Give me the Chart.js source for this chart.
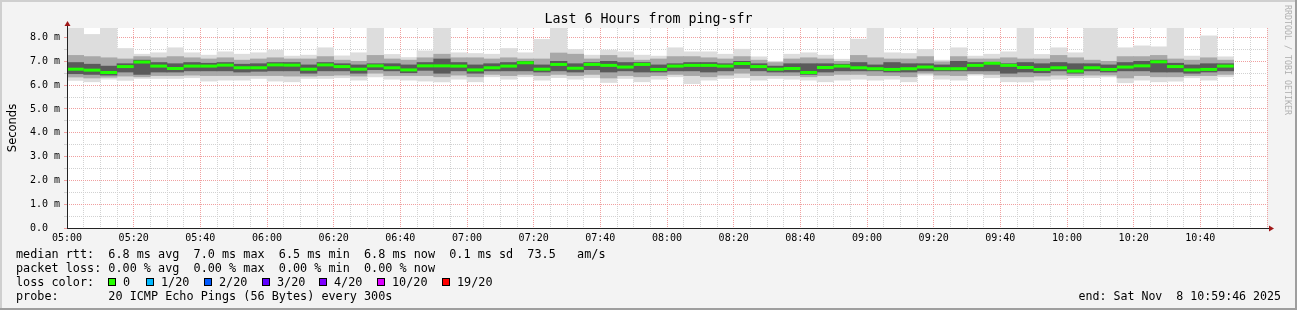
<!DOCTYPE html>
<html><head><meta charset="utf-8">
<script src="https://cdn.jsdelivr.net/npm/chart.js@4/dist/chart.umd.min.js"></script>
<style>
html,body{margin:0;padding:0;background:#f3f3f3;overflow:hidden}
#wrap{position:relative;width:1297px;height:310px}
#wrap canvas{position:absolute;left:0;top:0}
.t{position:absolute;font-family:'DejaVu Sans Mono',monospace;font-size:11.8px;color:#000;white-space:pre;line-height:14px}
.sq{position:absolute;width:6px;height:6px;border:1px solid #000;top:278px}
#title{position:absolute;left:0;width:1297px;top:11px;text-align:center;font-family:'DejaVu Sans Mono',monospace;font-size:13.3px;line-height:16px;color:#000;white-space:pre}
#ylab{position:absolute;left:-38.5px;top:121px;width:100px;text-align:center;font-family:'DejaVu Sans',sans-serif;font-size:11.5px;line-height:14px;transform:rotate(-90deg);color:#000}
#rrd{position:absolute;left:1228px;top:54px;width:120px;text-align:center;font-family:'DejaVu Sans Mono',monospace;font-size:8.3px;line-height:12px;transform:rotate(90deg);color:#b0b0b0;white-space:pre}
</style></head>
<body>
<div id="wrap">
<canvas id="c" width="1297" height="310"></canvas>
<div id="title">Last 6 Hours from ping-sfr</div>
<div id="ylab">Seconds</div>
<div id="rrd">RRDTOOL / TOBI OETIKER</div>
<div class="t" style="left:16px;top:247px">median rtt:  6.8 ms avg  7.0 ms max  6.5 ms min  6.8 ms now  0.1 ms sd  73.5   am/s</div>
<div class="t" style="left:16px;top:261px">packet loss: 0.00 % avg  0.00 % max  0.00 % min  0.00 % now</div>
<div class="t" style="left:16px;top:275px">loss color:</div>
<div id="lossRow"></div>
<div class="t" style="left:16px;top:289px">probe:       20 ICMP Echo Pings (56 Bytes) every 300s</div>
<div class="t" style="right:16px;top:289px;font-size:11.6px">end: Sat Nov  8 10:59:46 2025</div>
</div>
<script>
// ---- data (milliseconds), one entry per 5-minute interval starting 05:00 ----
const maxV = [8.45,8.13,8.45,7.54,7.30,7.36,7.57,7.36,7.26,7.40,7.30,7.36,
  7.47,7.22,7.26,7.57,7.23,7.36,8.45,7.29,7.16,7.44,8.45,7.36,
  7.33,7.30,7.54,7.36,7.92,8.45,7.50,7.26,7.47,7.40,7.26,7.22,
  7.57,7.40,7.40,7.30,7.51,7.19,7.00,7.30,7.36,7.26,7.09,7.93,
  8.45,7.36,7.33,7.50,7.05,7.57,7.22,7.30,7.40,8.45,7.29,7.57,
  7.36,8.45,8.45,7.57,7.65,7.61,8.45,7.22,8.07,7.19];
const hi2 = [7.25,7.2,7.15,7.1,7.2,7.15,7.2,7.15,7.1,7.15,7.05,7.1,
  7.15,7.1,7.1,7.2,7.05,7.0,7.25,7.1,7.05,7.15,7.3,7.15,
  7.15,7.1,7.15,7.1,7.1,7.35,7.3,7.1,7.25,7.15,7.05,7.1,
  7.2,7.2,7.15,7.1,7.2,7.05,6.95,7.1,7.15,7.1,7.0,7.25,
  7.15,7.1,7.1,7.2,6.98,7.2,7.1,7.1,7.15,7.1,7.1,7.25,
  7.15,7.05,7.0,7.2,7.2,7.25,7.1,7.05,7.15,7.05];
const hi3 = [6.95,6.88,6.8,6.9,7.05,6.95,6.9,6.95,6.92,6.95,6.88,6.9,
  6.95,6.95,6.85,6.95,6.9,6.85,6.9,6.9,6.85,6.95,7.1,6.95,
  6.85,6.9,6.95,7.0,6.85,7.0,6.9,6.95,7.0,6.95,6.95,6.85,
  6.9,6.95,6.95,6.9,7.0,6.9,6.8,6.9,6.9,6.9,6.88,6.95,
  6.85,6.95,6.9,6.9,6.85,7.0,6.95,6.95,6.9,6.95,6.9,6.95,
  6.9,6.9,6.85,6.95,7.0,7.05,6.92,6.85,6.9,6.9];
const medianV = [6.67,6.63,6.53,6.78,6.97,6.80,6.70,6.80,6.80,6.84,6.73,6.73,
  6.85,6.84,6.67,6.85,6.78,6.67,6.81,6.73,6.64,6.81,6.81,6.80,
  6.64,6.73,6.80,6.94,6.67,6.87,6.71,6.87,6.83,6.76,6.87,6.66,
  6.80,6.83,6.83,6.80,6.91,6.78,6.67,6.70,6.53,6.74,6.80,6.73,
  6.69,6.66,6.69,6.76,6.69,6.69,6.83,6.92,6.83,6.74,6.66,6.73,
  6.59,6.73,6.66,6.76,6.81,6.98,6.78,6.64,6.66,6.80];
const lo3 = [6.48,6.45,6.42,6.55,6.45,6.55,6.55,6.6,6.6,6.6,6.55,6.58,
  6.6,6.6,6.5,6.6,6.6,6.5,6.65,6.6,6.52,6.62,6.5,6.6,
  6.5,6.6,6.6,6.6,6.55,6.6,6.55,6.65,6.55,6.6,6.55,6.55,
  6.6,6.6,6.55,6.6,6.7,6.6,6.55,6.55,6.45,6.55,6.6,6.6,
  6.6,6.55,6.55,6.6,6.6,6.6,6.6,6.6,6.5,6.55,6.52,6.6,
  6.5,6.6,6.55,6.6,6.6,6.55,6.55,6.5,6.55,6.6];
const lo2 = [6.34,6.3,6.33,6.38,6.35,6.4,6.4,6.42,6.4,6.4,6.4,6.4,
  6.4,6.38,6.38,6.4,6.42,6.38,6.5,6.4,6.4,6.4,6.35,6.42,
  6.35,6.45,6.4,6.45,6.4,6.45,6.4,6.45,6.3,6.4,6.35,6.4,
  6.45,6.4,6.35,6.42,6.5,6.4,6.4,6.4,6.35,6.4,6.45,6.45,
  6.4,6.4,6.35,6.5,6.42,6.4,6.48,6.45,6.35,6.35,6.38,6.42,
  6.4,6.42,6.42,6.3,6.4,6.35,6.35,6.4,6.4,6.45];
const minV = [6.20,6.14,6.25,6.20,6.28,6.28,6.28,6.31,6.17,6.21,6.21,6.28,
  6.17,6.14,6.28,6.28,6.31,6.21,6.35,6.25,6.21,6.17,6.14,6.25,
  6.14,6.35,6.25,6.35,6.21,6.31,6.25,6.31,6.11,6.28,6.14,6.25,
  6.35,6.06,6.21,6.28,6.31,6.21,6.28,6.25,6.21,6.14,6.21,6.25,
  6.21,6.25,6.14,6.42,6.25,6.21,6.42,6.31,6.14,6.14,6.21,6.25,
  6.31,6.31,6.35,6.10,6.21,6.14,6.17,6.31,6.21,6.35];
const xTickLabels = ['05:00','05:20','05:40','06:00','06:20','06:40','07:00','07:20','07:40',
  '08:00','08:20','08:40','09:00','09:20','09:40','10:00','10:20','10:40'];
const yTickLabels = ['0.0  ','1.0 m','2.0 m','3.0 m','4.0 m','5.0 m','6.0 m','7.0 m','8.0 m'];
const lossLabels = ['0','1/20','2/20','3/20','4/20','10/20','19/20'];
const lossColors = ['#26ff00','#00b8ff','#0059ff','#5e00ff','#7e00ff','#dd00ff','#ff0000'];

// ---- legend row ----
const sqLeft = [108,146,204,262,319,377,442];
const row = document.getElementById('lossRow');
lossLabels.forEach((l,i)=>{
  const s=document.createElement('div'); s.className='sq'; s.style.left=sqLeft[i]+'px'; s.style.background=lossColors[i]; row.appendChild(s);
  const t=document.createElement('div'); t.className='t'; t.style.left=(sqLeft[i]+15)+'px'; t.style.top='275px'; t.textContent=l; row.appendChild(t);
});

// ---- chart ----
const STEP = 5; // minutes per interval
const xs = medianV.map((_,i)=> i*STEP + STEP/2);
const band = (lo,hi)=> xs.map((x,i)=>({x:x, y:[lo[i],hi[i]]}));

const bgPlugin = {
  id:'bg',
  beforeDraw(chart){
    const {ctx, chartArea:a, width:w, height:h} = chart;
    ctx.save();
    ctx.fillStyle='#f3f3f3'; ctx.fillRect(0,0,w,h);
    ctx.fillStyle='#cfcfcf'; ctx.fillRect(0,0,w,2); ctx.fillRect(0,0,2,h);
    ctx.fillStyle='#9e9e9e'; ctx.fillRect(0,h-2,w,2); ctx.fillRect(w-2,0,2,h);
    ctx.fillStyle='#ffffff'; ctx.fillRect(a.left,a.top,a.right-a.left,a.bottom-a.top);
    ctx.restore();
  },
  afterDraw(chart){
    const {ctx, chartArea:a} = chart;
    ctx.save();
    ctx.strokeStyle='#222'; ctx.lineWidth=1;
    ctx.beginPath(); ctx.moveTo(a.left+0.5,a.bottom); ctx.lineTo(a.left+0.5,a.top-3); ctx.stroke();
    ctx.beginPath(); ctx.moveTo(a.left,a.bottom+0.5); ctx.lineTo(a.right+2,a.bottom+0.5); ctx.stroke();
    ctx.fillStyle='#a01818';
    ctx.beginPath(); ctx.moveTo(a.left+0.5,a.top-7); ctx.lineTo(a.left-2.5,a.top-2); ctx.lineTo(a.left+3.5,a.top-2); ctx.closePath(); ctx.fill();
    ctx.beginPath(); ctx.moveTo(a.right+7,a.bottom+0.5); ctx.lineTo(a.right+2,a.bottom-2.5); ctx.lineTo(a.right+2,a.bottom+3.5); ctx.closePath(); ctx.fill();
    ctx.restore();
  }
};

const barCommon = {type:'bar', grouped:false, barPercentage:1, categoryPercentage:1, borderWidth:0, borderSkipped:false};

new Chart(document.getElementById('c'), {
  data:{
    datasets:[
      Object.assign({data:band(minV,maxV), backgroundColor:'#dddddd', order:4}, barCommon),
      Object.assign({data:band(lo2,hi2), backgroundColor:'#a8a8a8', order:3}, barCommon),
      Object.assign({data:band(lo3,hi3), backgroundColor:'#5a5a5a', order:2}, barCommon),
      {type:'line', data:xs.map((x,i)=>({x:x,y:medianV[i]})), showLine:false, order:1,
       pointStyle:'line', pointRadius:8.4, pointHoverRadius:8.4, pointBorderWidth:3, pointBorderColor:'#20ff00', pointBackgroundColor:'#20ff00'}
    ]
  },
  options:{
    responsive:false, animation:false, devicePixelRatio:1,
    layout:{padding:{left:0,top:28,right:30,bottom:0}},
    plugins:{legend:{display:false}, tooltip:{enabled:false}, title:{display:false}},
    scales:{
      x:{type:'linear', min:0, max:360, offset:false,
        afterFit(s){ s.height = 82; },
        border:{display:false, dash:[1,1]},
        grid:{offset:false, drawTicks:false, borderDash:[1,1],
          color:(c)=> (c.tick && c.tick.value % 20 === 0) ? '#f0a0a0' : '#d2d2d2'},
        ticks:{stepSize:5, autoSkip:false, maxRotation:0, padding:4, color:'#000',
          font:{family:'DejaVu Sans Mono', size:10},
          callback:(v)=> (v % 20 === 0 && v/20 < xTickLabels.length) ? xTickLabels[v/20] : ''}
      },
      y:{type:'linear', min:0, max:8.4,
        afterFit(s){ s.width = 67; },
        afterBuildTicks(s){ const t=[]; for(let k=0;k<=16;k++) t.push({value:k/2}); s.ticks=t; },
        border:{display:false, dash:[1,1]},
        grid:{drawTicks:true, tickLength:3, borderDash:[1,1],
          color:(c)=>{ if(!c.tick) return '#d2d2d2'; const v=Math.round(c.tick.value*100)/100;
            return Number.isInteger(v) ? '#f0a0a0' : '#d2d2d2'; }},
        ticks:{autoSkip:false, padding:4, color:'#000',
          font:{family:'DejaVu Sans Mono', size:10},
          callback:(v)=>{ const r=Math.round(v*100)/100; return (Number.isInteger(r) && r < yTickLabels.length) ? yTickLabels[r] : ''; }}
      }
    }
  },
  plugins:[bgPlugin]
});
</script>
</body></html>
